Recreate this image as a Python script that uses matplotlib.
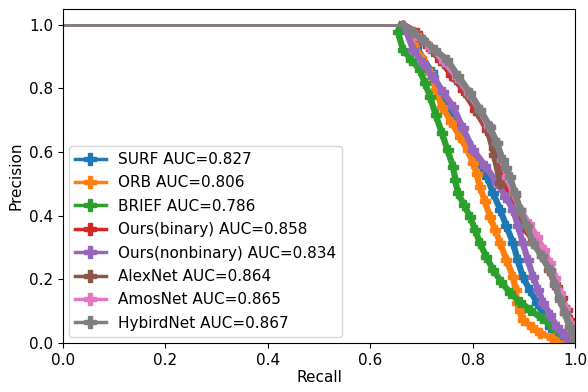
# PR curves comparison

import matplotlib
matplotlib.use('Agg')
import matplotlib.pyplot as plt
from matplotlib.lines import Line2D

plt.rcParams['font.family'] = ['DejaVu Sans']

# 데이터
labels = ['SURF AUC=0.827', 'ORB AUC=0.806', 'BRIEF AUC=0.786', 'Ours(binary) AUC=0.858',
          'Ours(nonbinary) AUC=0.834', 'AlexNet AUC=0.864', 'AmosNet AUC=0.865',
          'HybirdNet AUC=0.867']

surf_r = [0.0, 0.665, 0.690, 0.720, 0.750, 0.770, 0.789, 0.808, 0.828, 0.840, 0.854, 0.866, 0.879, 0.888, 0.898, 0.912, 0.926, 0.938, 0.951, 0.968, 0.984, 1.0]
surf_p = [1.0, 1.0, 0.930, 0.850, 0.755, 0.690, 0.629, 0.575, 0.522, 0.470, 0.418, 0.366, 0.314, 0.260, 0.208, 0.165, 0.126, 0.088, 0.050, 0.025, 0.003, 0.0]

orb_r = [0.0, 0.665, 0.685, 0.700, 0.717, 0.728, 0.740, 0.758, 0.775, 0.790, 0.801, 0.808, 0.814, 0.824, 0.834, 0.844, 0.854, 0.866, 0.879, 0.884, 0.887, 0.892, 0.898, 0.915, 0.932, 0.955, 0.977, 1.0]
orb_p = [1.0, 1.0, 0.940, 0.895, 0.849, 0.795, 0.742, 0.695, 0.648, 0.605, 0.566, 0.530, 0.491, 0.445, 0.396, 0.355, 0.314, 0.260, 0.208, 0.165, 0.126, 0.100, 0.072, 0.050, 0.031, 0.015, 0.003, 0.0]

brief_r = [0.0, 0.660, 0.654, 0.664, 0.680, 0.697, 0.707, 0.717, 0.728, 0.740, 0.751, 0.762, 0.766, 0.771, 0.783, 0.795, 0.805, 0.814, 0.827, 0.840, 0.856, 0.873, 0.892, 0.912, 0.935, 0.957, 0.975, 0.990, 1.0]
brief_p = [1.0, 1.0, 0.978, 0.921, 0.890, 0.858, 0.815, 0.774, 0.715, 0.660, 0.605, 0.553, 0.512, 0.472, 0.434, 0.396, 0.355, 0.314, 0.270, 0.230, 0.192, 0.157, 0.130, 0.104, 0.077, 0.050, 0.028, 0.010, 0.0]

binary_r = [0.0, 0.665, 0.691, 0.713, 0.736, 0.758, 0.781, 0.805, 0.828, 0.841, 0.854, 0.863, 0.873, 0.885, 0.898, 0.918, 0.938, 0.951, 0.965, 0.975, 0.984, 0.990, 0.996, 1.0]
binary_p = [1.0, 1.0, 0.975, 0.932, 0.890, 0.843, 0.796, 0.733, 0.670, 0.612, 0.553, 0.506, 0.459, 0.412, 0.365, 0.324, 0.283, 0.230, 0.176, 0.140, 0.104, 0.072, 0.041, 0.0]

nonbin_r = [0.0, 0.665, 0.684, 0.703, 0.723, 0.742, 0.762, 0.781, 0.801, 0.825, 0.848, 0.864, 0.879, 0.889, 0.898, 0.908, 0.918, 0.928, 0.938, 0.952, 0.965, 0.978, 0.990, 1.0]
nonbin_p = [1.0, 1.0, 0.921, 0.878, 0.836, 0.789, 0.742, 0.675, 0.607, 0.555, 0.503, 0.460, 0.418, 0.366, 0.314, 0.260, 0.208, 0.167, 0.126, 0.088, 0.050, 0.025, 0.003, 0.0]

alex_r = [0.0, 0.665, 0.700, 0.722, 0.745, 0.768, 0.790, 0.810, 0.830, 0.842, 0.854, 0.862, 0.870, 0.882, 0.893, 0.906, 0.920, 0.935, 0.950, 0.960, 0.970, 0.980, 0.990, 1.0]
alex_p = [1.0, 1.0, 0.955, 0.918, 0.880, 0.830, 0.780, 0.725, 0.670, 0.590, 0.503, 0.508, 0.510, 0.464, 0.418, 0.366, 0.314, 0.272, 0.230, 0.185, 0.140, 0.095, 0.050, 0.0]

amos_r = [0.0, 0.665, 0.690, 0.717, 0.744, 0.770, 0.792, 0.814, 0.831, 0.848, 0.858, 0.867, 0.880, 0.893, 0.910, 0.926, 0.939, 0.951, 0.961, 0.971, 0.981, 0.990, 1.0]
amos_p = [1.0, 1.0, 0.966, 0.931, 0.884, 0.836, 0.785, 0.733, 0.681, 0.629, 0.575, 0.522, 0.470, 0.418, 0.375, 0.333, 0.292, 0.252, 0.205, 0.157, 0.110, 0.063, 0.0]

hybird_r = [0.0, 0.664, 0.683, 0.703, 0.726, 0.750, 0.772, 0.795, 0.815, 0.834, 0.847, 0.859, 0.866, 0.873, 0.883, 0.893, 0.906, 0.918, 0.935, 0.951, 0.961, 0.971, 0.981, 0.990, 1.0]
hybird_p = [1.0, 1.0, 0.976, 0.953, 0.921, 0.890, 0.838, 0.786, 0.733, 0.679, 0.627, 0.575, 0.548, 0.522, 0.470, 0.418, 0.366, 0.314, 0.272, 0.230, 0.183, 0.135, 0.093, 0.050, 0.010]

recalls = [surf_r, orb_r, brief_r, binary_r, nonbin_r, alex_r, amos_r, hybird_r]
precisions = [surf_p, orb_p, brief_p, binary_p, nonbin_p, alex_p, amos_p, hybird_p]
colors = ['#1f77b4', '#ff7f0e', '#2ca02c', '#d62728', '#9467bd', '#8c564b', '#e377c2', '#7f7f7f']

# 시각화
fig, ax = plt.subplots(figsize=(5.88, 3.92), dpi=100)
fig.subplots_adjust(left=0.107, right=0.978, top=0.978, bottom=0.125)

handles = []
for r, p, c, lab in zip(recalls, precisions, colors, labels):
    # 윗부분 평평한 구간 (얇은 선)
    ax.plot(r[:2], p[:2], color=c, linewidth=2)
    # 곡선 구간 (두꺼운 선 + 마커)
    ax.plot(r[1:], p[1:], color=c, linewidth=4.5, marker='P', markersize=7,
            markevery=slice(1, None))
    handles.append(Line2D([0], [0], color=c, linewidth=2.5, marker='P', markersize=8, label=lab))

ax.set_xlim(0, 1)
ax.set_ylim(0, 1.05)
ax.set_xticks([0.0, 0.2, 0.4, 0.6, 0.8, 1.0])
ax.set_yticks([0.0, 0.2, 0.4, 0.6, 0.8, 1.0])
ax.tick_params(labelsize=11)
ax.set_xlabel('Recall', fontsize=11, labelpad=2)
ax.set_ylabel('Precision', fontsize=11)

ax.legend(handles=handles, loc='lower left', fontsize=11, handlelength=2.0,
          labelspacing=0.55, borderaxespad=0.4)

plt.savefig('out.png', dpi=100)
